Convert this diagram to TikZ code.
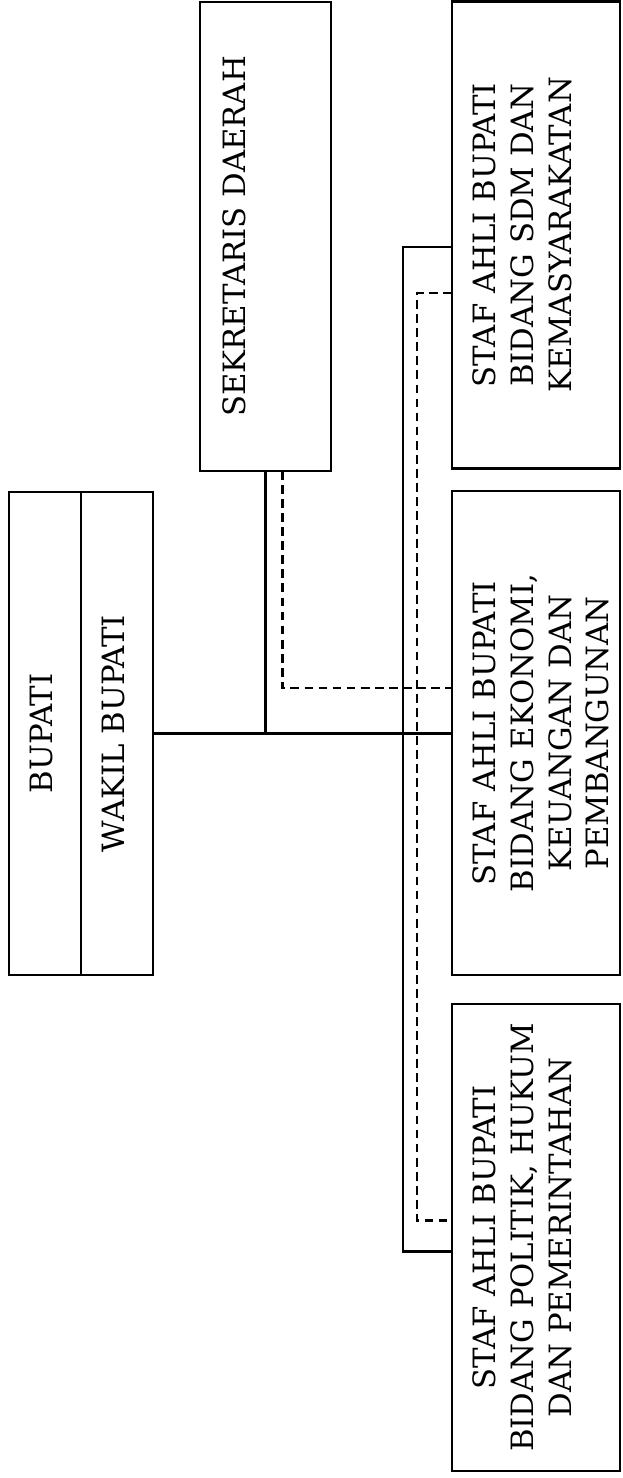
\documentclass[tikz,border=0pt]{standalone}
\usepackage{fontspec}
\setmainfont{DejaVu Serif}
\usepackage{tikz}
\usetikzlibrary{positioning, calc}

\tikzset{
  box/.style={draw, line width=1.5pt, inner sep=0pt, outer sep=0pt,
    font=\fontsize{17.5}{21.5}\selectfont},
  leaderbox/.style={box, minimum width=14.4mm, minimum height=96.6mm},
  staffbox/.style={box, minimum width=33.6mm, minimum height=93.4mm},
  link/.style={line width=1.5pt},
  dlink/.style={line width=1.5pt, dash pattern=on 5pt off 3pt},
}
% rotated text, centred or pushed to the top of the box
\newcommand{\vlabel}[1]{\rotatebox{90}{\begin{tabular}{@{}c@{}}#1\end{tabular}}}
\newcommand{\vlabelat}[3]{\makebox[#1][l]{\hspace*{#2}\vlabel{#3}}}

\begin{document}
\begin{tikzpicture}[x=0.2mm, y=-0.2mm]
\useasboundingbox (0,0) rectangle (623,1478);

\node[leaderbox] (bupati) at (45,733.5) {\vlabel{BUPATI}};
\node[leaderbox, right=0pt of bupati] (wakil) {\vlabel{WAKIL BUPATI}};

\node[box, minimum width=26.2mm, minimum height=93.8mm] (sekda) at (265.5,236.5)
  {\vlabelat{26.2mm}{3.8mm}{SEKRETARIS DAERAH}};

\node[staffbox] (sdm) at (536,235)
  {\vlabelat{33.6mm}{3.4mm}{STAF AHLI BUPATI\\BIDANG SDM DAN\\KEMASYARAKATAN}};
\node[staffbox, minimum height=96.8mm] (ekonomi) at (536,733)
  {\vlabelat{33.6mm}{3.4mm}{STAF AHLI BUPATI\\BIDANG EKONOMI,\\KEUANGAN DAN\\PEMBANGUNAN}};
\node[staffbox] (politik) at (536,1237.5)
  {\vlabelat{33.6mm}{3.4mm}{STAF AHLI BUPATI\\BIDANG POLITIK, HUKUM\\DAN PEMERINTAHAN}};

\draw[link] (wakil.east) -- (wakil.east -| ekonomi.west);
\draw[link] (sekda.south) -- (sekda.south |- wakil.east);
\draw[dlink] ($(sekda.south)+(17,0)$) |- ($(ekonomi.west)+(0,-45)$);

\draw[link] ($(sdm.west)+(0,12)$) -- ++(-49,0) |- ($(politik.west)+(0,14)$);
\draw[dlink] ($(sdm.west)+(0,58)$) -- ++(-35,0) |- ($(politik.west)+(0,-17)$);
\end{tikzpicture}
\end{document}
